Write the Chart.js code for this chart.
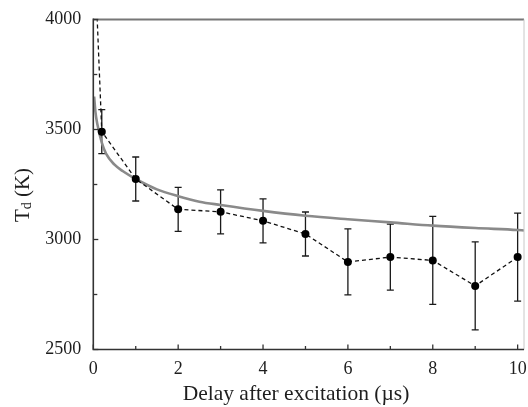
<!DOCTYPE html>
<html>
<head>
<meta charset="utf-8">
<script src="https://cdn.jsdelivr.net/npm/chart.js@4.4.1/dist/chart.umd.min.js"></script>
<style>
  html, body { margin: 0; padding: 0; background: #fff; }
  #wrap { width: 528px; height: 407px; position: relative; }
</style>
</head>
<body>
<div id="wrap"><canvas id="c" width="528" height="407"></canvas></div>
<script>
// ---- data ----
const delays = [0.05, 0.2, 1, 2, 3, 4, 5, 6, 7, 8, 9, 10];
const tempMeasured = [4200, 3490, 3275, 3137, 3126, 3085, 3025, 2898, 2920, 2905, 2789, 2920];
const tempErrors = [null, 100, 100, 100, 100, 100, 100, 150, 150, 200, 200, 200];

const fitDelays = [0.02, 0.05, 0.1, 0.2, 0.3, 0.5, 0.7, 1, 1.5, 2, 2.5, 3, 4, 5, 6, 7, 8, 9, 10, 10.15];
const fitTemps = [3650, 3580, 3520, 3440, 3390, 3340, 3310, 3275, 3228, 3197, 3172, 3157, 3130, 3108, 3092, 3078, 3063, 3052, 3043, 3041];

const xTickLabels = ['0', '2', '4', '6', '8', '10'];
const yTickLabels = ['2500', '3000', '3500', '4000'];
const xTitle = 'Delay after excitation (µs)';
const yTitleMain = 'T';
const yTitleSub = 'd';
const yTitleRest = ' (K)';

const SERIF = 'Liberation Serif';
const TEXT = '#1e1e1e';

Chart.defaults.font.family = SERIF;
Chart.defaults.color = TEXT;

const measured = delays.map((x, i) => ({ x: x, y: tempMeasured[i], e: tempErrors[i] }));
const fit = fitDelays.map((x, i) => ({ x: x, y: fitTemps[i] }));

const framePlugin = {
  id: 'frame',
  beforeDatasetsDraw(chart) {
    const { ctx, scales } = chart;
    const xs = scales.x, ys = scales.y;
    ctx.save();
    ctx.strokeStyle = '#1a1a1a';
    ctx.lineWidth = 1.3;
    measured.forEach(p => {
      if (p.e == null) return;
      const px = xs.getPixelForValue(p.x);
      const top = ys.getPixelForValue(p.y + p.e);
      const bot = ys.getPixelForValue(p.y - p.e);
      ctx.beginPath();
      ctx.moveTo(px, top); ctx.lineTo(px, bot);
      ctx.moveTo(px - 3.5, top); ctx.lineTo(px + 3.5, top);
      ctx.moveTo(px - 3.5, bot); ctx.lineTo(px + 3.5, bot);
      ctx.stroke();
    });
    ctx.restore();
  },
  afterDraw(chart) {
    const { ctx, chartArea: a, scales } = chart;
    const xs = scales.x, ys = scales.y;
    ctx.save();
    ctx.strokeStyle = '#777';
    ctx.lineWidth = 2;
    ctx.beginPath(); ctx.moveTo(a.left, a.top); ctx.lineTo(a.right, a.top); ctx.stroke();
    ctx.strokeStyle = '#c8c8c8';
    ctx.lineWidth = 1;
    ctx.beginPath(); ctx.moveTo(a.right, a.top); ctx.lineTo(a.right, a.bottom); ctx.stroke();
    ctx.strokeStyle = '#333';
    ctx.lineWidth = 1.6;
    ctx.beginPath();
    ctx.moveTo(a.left, a.top - 1); ctx.lineTo(a.left, a.bottom); ctx.lineTo(a.right, a.bottom);
    ctx.stroke();
    ctx.lineWidth = 1.3;
    xs.ticks.forEach(t => {
      const px = xs.getPixelForValue(t.value);
      const major = Math.round(t.value) % 2 === 0;
      const len = major ? 5 : 3.5;
      ctx.beginPath(); ctx.moveTo(px, a.bottom); ctx.lineTo(px, a.bottom - len); ctx.stroke();
    });
    ys.ticks.forEach(t => {
      const py = ys.getPixelForValue(t.value);
      const major = t.value % 500 === 0;
      const len = major ? 5 : 4;
      ctx.beginPath(); ctx.moveTo(a.left, py); ctx.lineTo(a.left + len, py); ctx.stroke();
    });
    ctx.fillStyle = TEXT;
    ctx.font = '21.5px "' + SERIF + '"';
    ctx.textBaseline = 'alphabetic';
    ctx.textAlign = 'center';
    ctx.fillText(xTitle, 296, 399.5);
    ctx.translate(29, 195);
    ctx.rotate(-Math.PI / 2);
    const fMain = '21px "' + SERIF + '"', fSub = '14px "' + SERIF + '"';
    ctx.font = fMain; const wT = ctx.measureText(yTitleMain).width;
    const wR = ctx.measureText(yTitleRest).width;
    ctx.font = fSub; const wd = ctx.measureText(yTitleSub).width;
    let x0 = -(wT + wd + wR) / 2;
    ctx.textAlign = 'left';
    ctx.font = fMain; ctx.fillText(yTitleMain, x0, 0); x0 += wT;
    ctx.font = fSub; ctx.fillText(yTitleSub, x0, 2); x0 += wd;
    ctx.font = fMain; ctx.fillText(yTitleRest, x0, 0);
    ctx.restore();
  }
};

new Chart(document.getElementById('c'), {
  type: 'line',
  data: {
    datasets: [
      {
        label: 'fit',
        data: fit,
        borderColor: '#8a8a8a',
        borderWidth: 2.6,
        pointRadius: 0,
        fill: false,
        cubicInterpolationMode: 'monotone',
        order: 2
      },
      {
        label: 'measured',
        data: measured,
        borderColor: '#111',
        borderWidth: 1.3,
        borderDash: [4, 3],
        pointRadius: 4,
        pointBackgroundColor: '#000',
        pointBorderColor: '#000',
        pointBorderWidth: 0,
        fill: false,
        tension: 0,
        order: 1
      }
    ]
  },
  options: {
    responsive: false,
    animation: false,
    devicePixelRatio: 1,
    layout: { padding: { left: 0, right: 1, top: 19.5, bottom: 0 } },
    plugins: { legend: { display: false }, tooltip: { enabled: false } },
    scales: {
      x: {
        type: 'linear',
        min: 0,
        max: 10.15,
        grid: { display: false, drawTicks: false },
        border: { display: false },
        ticks: {
          stepSize: 1,
          includeBounds: false,
          autoSkip: false,
          maxRotation: 0,
          padding: 9,
          color: TEXT,
          font: { family: SERIF, size: 18 },
          callback: (v) => { const i = xTickLabels.indexOf(String(v)); return i >= 0 ? xTickLabels[i] : ''; }
        },
        afterFit: (s) => { s.height = 57.5; s.paddingLeft = 0; s.paddingRight = 0; }
      },
      y: {
        min: 2500,
        max: 4000,
        grid: { display: false, drawTicks: false },
        border: { display: false },
        ticks: {
          stepSize: 250,
          autoSkip: false,
          padding: 12,
          color: TEXT,
          font: { family: SERIF, size: 18 },
          callback: (v) => { const i = yTickLabels.indexOf(String(v)); return i >= 0 ? yTickLabels[i] : ''; }
        },
        afterFit: (s) => { s.width = 93.3; s.paddingTop = 0; s.paddingBottom = 0; }
      }
    }
  },
  plugins: [framePlugin]
});
</script>
</body>
</html>
